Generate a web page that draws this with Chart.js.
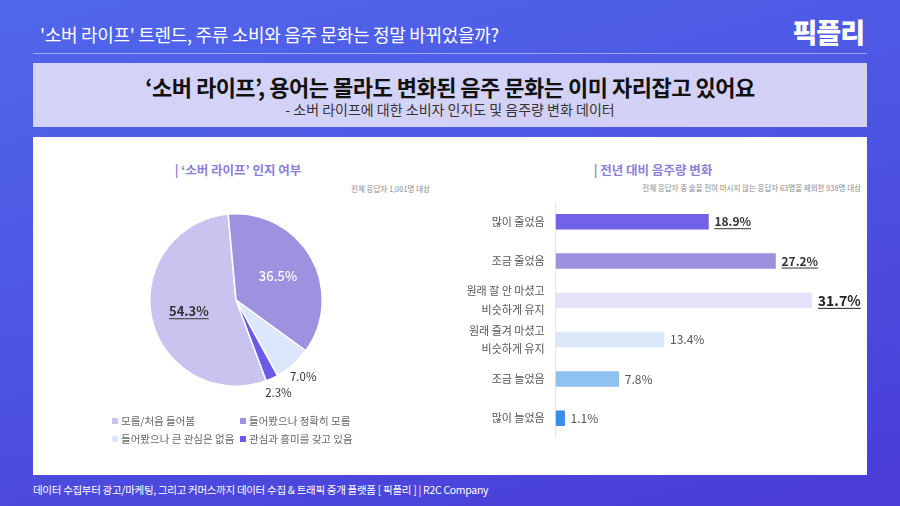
<!DOCTYPE html>
<html><head><meta charset="utf-8">
<script src="https://cdn.jsdelivr.net/npm/chart.js@4.4.1/dist/chart.umd.min.js"></script>
<style>
html,body{margin:0;padding:0;}
body{width:900px;height:506px;overflow:hidden;position:relative;font-family:"Noto Sans CJK KR","Noto Sans",sans-serif;background:linear-gradient(165deg,#5067eb 0%,#4d55e3 45%,#4a3cd5 100%);}
.abs{position:absolute;}
#topTitle{left:40px;top:21px;color:#fff;font-size:18px;letter-spacing:-0.3px;white-space:nowrap;}
#logo{right:36px;top:12px;color:#fff;font-size:27px;font-weight:900;letter-spacing:-1px;}
#rule{left:33px;top:53px;width:834px;height:1px;background:rgba(255,255,255,0.45);}
#band{left:33px;top:63px;width:834px;height:64px;background:rgba(222,220,248,0.93);text-align:center;}
#band .t{position:absolute;left:0;right:0;top:7px;font-size:22px;font-weight:700;color:#111;letter-spacing:-0.5px;white-space:nowrap;}
#band .s{position:absolute;left:0;right:0;top:36px;font-size:14px;color:#333;white-space:nowrap;}
#panel{left:33px;top:137px;width:834px;height:338px;background:#fff;}
.ctitle{color:#8a80d8;font-size:12.5px;font-weight:700;white-space:nowrap;transform:translateX(-50%);}
.note{color:#8a8a8a;font-size:7.5px;white-space:nowrap;transform:translateX(-100%);}
#footer{left:33px;top:482px;color:#fff;font-size:10.5px;letter-spacing:-0.3px;white-space:nowrap;}
#legend{left:112px;top:413px;width:260px;font-size:10.5px;color:#666;}
#legend .item{position:absolute;white-space:nowrap;}
#legend .sw{display:inline-block;width:6px;height:6px;margin-right:3px;vertical-align:1px;}
</style></head>
<body>
<div id="topTitle" class="abs">'소버 라이프' 트렌드, 주류 소비와 음주 문화는 정말 바뀌었을까?</div>
<div id="logo" class="abs">픽플리</div>
<div id="rule" class="abs"></div>
<div id="band" class="abs"><div class="t">‘소버 라이프’, 용어는 몰라도 변화된 음주 문화는 이미 자리잡고 있어요</div><div class="s">- 소버 라이프에 대한 소비자 인지도 및 음주량 변화 데이터</div></div>
<div id="panel" class="abs"></div>
<div class="abs ctitle" style="left:238px;top:160px;">| ‘소버 라이프’ 인지 여부</div>
<div class="abs ctitle" style="left:653px;top:160px;">| 전년 대비 음주량 변화</div>
<div class="abs note" style="left:430px;top:183px;">전체 응답자 1,001명 대상</div>
<div class="abs note" style="left:861px;top:182px;">전체 응답자 중 술을 전혀 마시지 않는 응답자 63명을 제외한 938명 대상</div>
<div class="abs" style="left:105.5px;top:185px;width:260px;height:230px;"><canvas id="pie"></canvas></div>
<div class="abs" style="left:440px;top:190px;width:427px;height:260px;"><canvas id="bar"></canvas></div>
<div id="legend" class="abs"></div>
<div id="footer" class="abs">데이터 수집부터 광고/마케팅, 그리고 커머스까지 데이터 수집 &amp; 트래픽 중개 플랫폼 [ 픽플리 ]  |  R2C Company</div>
<script>
// ---- data ----
const pieLabels = ['모름/처음 들어봄', '들어봤으나 정확히 모름', '들어봤으나 큰 관심은 없음', '관심과 흥미를 갖고 있음'];
const pieValues = [54.3, 36.5, 7.0, 2.3];
const barLabels = ['많이 줄었음', '조금 줄었음', ['원래 잘 안 마셨고', '비슷하게 유지'], ['원래 즐겨 마셨고', '비슷하게 유지'], '조금 늘었음', '많이 늘었음'];
const barValues = [18.9, 27.2, 31.7, 13.4, 7.8, 1.1];

// ---- styles ----
const pieColors = ['#c9c4ef', '#9d91e0', '#dde7fb', '#6a5ae7'];
const barColors = ['#7262e9', '#9e90df', '#e5e2f9', '#dde9fa', '#8fc1f1', '#3a8de9'];
const FONT = '"Noto Sans CJK KR","Noto Sans",sans-serif';

// legend (HTML, built from data arrays)
const lg = document.getElementById('legend');
const legPos = [[0,0],[128,0],[0,18],[128,18]];
pieLabels.forEach((l,i)=>{
  const d=document.createElement('div'); d.className='item';
  d.style.left=legPos[i][0]+'px'; d.style.top=legPos[i][1]+'px';
  d.innerHTML='<span class="sw" style="background:'+pieColors[i]+'"></span>'+l;
  lg.appendChild(d);
});

function underlineText(ctx, text, x, y, align, off){
  const w = ctx.measureText(text).width;
  const x0 = align==='left' ? x : x - w/2;
  ctx.fillText(text, x, y);
  ctx.save(); ctx.lineWidth=1; ctx.strokeStyle=ctx.fillStyle;
  ctx.beginPath(); ctx.moveTo(x0, y+off); ctx.lineTo(x0+w, y+off); ctx.stroke(); ctx.restore();
}

const pieLabelPlugin = {
  id:'pieLabels',
  afterDatasetsDraw(chart){
    const ctx=chart.ctx; const meta=chart.getDatasetMeta(0);
    const maxV=Math.max(...pieValues);
    meta.data.forEach((arc,i)=>{
      const v=pieValues[i];
      const mid=(arc.startAngle+arc.endAngle)/2;
      const inside=v>=10;
      const f=inside?0.56:1.18;
      const x=arc.x+Math.cos(mid)*arc.outerRadius*f;
      const y=arc.y+Math.sin(mid)*arc.outerRadius*f;
      const t=v.toFixed(1)+'%';
      ctx.save(); ctx.textAlign='center'; ctx.textBaseline='middle';
      if(v===maxV){ ctx.font='600 13px '+FONT; ctx.fillStyle='#333'; underlineText(ctx,t,x,y,'center',8); }
      else if(inside){ ctx.font='500 13px '+FONT; ctx.fillStyle='#fff'; ctx.fillText(t,x,y); }
      else { ctx.font='11.5px '+FONT; ctx.fillStyle='#333'; ctx.fillText(t,x,y); }
      ctx.restore();
    });
  }
};

new Chart(document.getElementById('pie'),{
  type:'pie',
  data:{labels:pieLabels,datasets:[{data:pieValues,backgroundColor:pieColors,borderColor:'#fff',borderWidth:1.5}]},
  options:{responsive:true,maintainAspectRatio:false,animation:false,rotation:159.5,
    layout:{padding:{top:28,bottom:28,left:0,right:0}},
    plugins:{legend:{display:false},tooltip:{enabled:false}}},
  plugins:[pieLabelPlugin]
});

const topBars=[0,1,2];
const barLabelPlugin={
  id:'barLabels',
  afterDatasetsDraw(chart){
    const ctx=chart.ctx; const meta=chart.getDatasetMeta(0);
    const maxV=Math.max(...barValues);
    meta.data.forEach((b,i)=>{
      const v=barValues[i]; const t=v.toFixed(1)+'%';
      const x=b.x+6, y=b.y;
      ctx.save(); ctx.textAlign='left'; ctx.textBaseline='middle';
      if(v===maxV){ ctx.font='700 14px '+FONT; ctx.fillStyle='#222'; underlineText(ctx,t,x,y,'left',8); }
      else if(topBars.includes(i)){ ctx.font='700 12px '+FONT; ctx.fillStyle='#333'; underlineText(ctx,t,x,y,'left',7); }
      else { ctx.font='12px '+FONT; ctx.fillStyle='#555'; ctx.fillText(t,x,y); }
      ctx.restore();
    });
  }
};

new Chart(document.getElementById('bar'),{
  type:'bar',
  data:{labels:barLabels,datasets:[{data:barValues,backgroundColor:barColors,barThickness:15,borderWidth:0}]},
  options:{indexAxis:'y',responsive:true,maintainAspectRatio:false,animation:false,
    layout:{padding:{top:4.5,bottom:9,left:0,right:28.5}},
    scales:{
      x:{display:false,min:0,max:35},
      y:{grid:{display:false,drawTicks:true,tickLength:8},border:{display:true,color:'#e6e6e6',width:1},
         ticks:{color:'#555',padding:3,font:{family:FONT,size:11,lineHeight:1.65}},
         afterFit(s){s.width=115.7;}}
    },
    plugins:{legend:{display:false},tooltip:{enabled:false}}},
  plugins:[barLabelPlugin]
});
</script>
</body></html>
